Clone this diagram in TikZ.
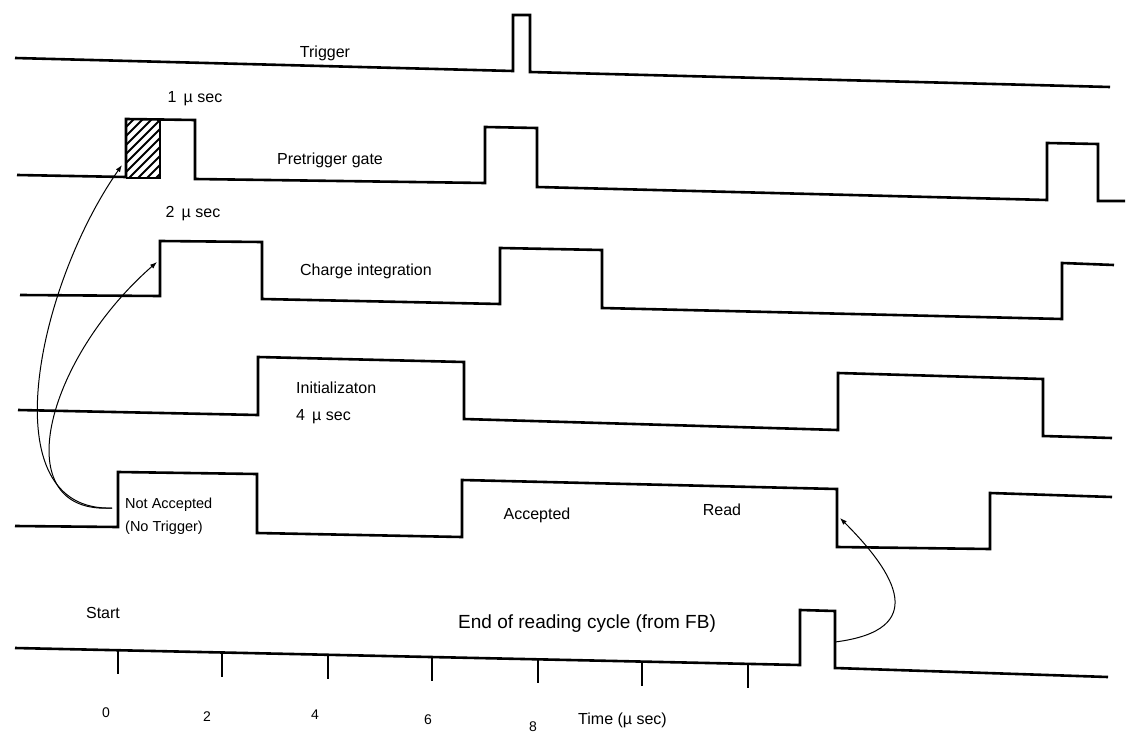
\documentclass[tikz,border=0pt]{standalone}
\usepackage{fontspec}
\setmainfont{Liberation Sans}
\usetikzlibrary{arrows.meta}
\begin{document}
\begin{tikzpicture}[x=1pt,y=-1pt,
  wave/.style={line width=2.6pt, line join=miter},
  conn/.style={line width=1pt, -{Latex[length=7pt,width=5pt]}},
  lbl/.style={inner sep=0pt, font=\fontsize{16}{18}\selectfont},
  tick/.style={line width=2pt},
  num/.style={inner sep=0pt, font=\fontsize{14}{16}\selectfont}
  ]
\useasboundingbox (0,0) rectangle (1142,738);

% Trigger
\draw[wave] (15,58) -- (513,71) -- (513,15) -- (530,15) -- (530,72) -- (1110,87);
\node[lbl] (ltrig) at (325,53) {Trigger};

% Pretrigger gate
\node[lbl] (l1us) at (195,99) {1 \,µ sec};
\begin{scope}
\clip (126,119) rectangle (160,178);
\foreach \c in {60,69,...,170} \draw[line width=1.8pt] (\c,184) -- (\c+70,114);
\end{scope}
\draw[line width=2.2pt] (126,178) -- (160,178) -- (160,120);
\draw[wave] (17,175) -- (126,177) -- (126,119) -- (195,120) -- (195,179) -- (485,183) -- (485,127) -- (537,128) -- (537,187) -- (1047,200) -- (1047,143) -- (1098,144) -- (1098,201) -- (1125,201);
\node[lbl] (lpre) at (330,160) {Pretrigger gate};

% Charge integration
\node[lbl] (l2us) at (193,214) {2 \,µ sec};
\draw[wave] (20,295) -- (160,296) -- (160,241) -- (262,242) -- (262,299) -- (500,304) -- (500,248) -- (602,250) -- (602,308) -- (1062,319) -- (1062,263) -- (1114,265);
\node[lbl] (lchg) at (366,271) {Charge integration};

% Initialization
\draw[wave] (18,410) -- (258,415) -- (258,357) -- (464,362) -- (464,419) -- (838,430) -- (838,373) -- (1043,379) -- (1043,436) -- (1112,438);
\node[lbl, anchor=west] (linit) at (296,388) {Initializaton};
\node[lbl, anchor=west] (l4us) at (296,417) {4 \,µ sec};

% Accepted / read
\draw[wave] (15,526) -- (118,527) -- (118,472) -- (257,474) -- (257,533) -- (462,537) -- (462,480) -- (837,489) -- (837,547) -- (990,549) -- (990,493) -- (1112,497);
\node[lbl, align=left, anchor=west, font=\fontsize{14.5}{23}\selectfont] (lnot) at (125,516) {Not Accepted\\(No Trigger)};
\node[lbl] (lacc) at (537,515) {Accepted};
\node[lbl] (lread) at (722,510) {Read};

% End of reading cycle / time axis
\draw[wave] (15,648) -- (800,665) -- (800,610) -- (835,611) -- (835,668) -- (1108,677);
\foreach \x/\y in {118/650.2,222/652.5,328/654.8,432/657,538/659.3,642/661.6,748/663.9}
  \draw[tick] (\x,\y) -- (\x,\y+24);
\node[lbl] (lstart) at (103,613) {Start};
\node[lbl, anchor=west, font=\fontsize{19}{21}\selectfont] (lend) at (458,624) {End of reading cycle (from FB)};
\node[num] (n0) at (106,713) {0};
\node[num] (n2) at (207,717) {2};
\node[num] (n4) at (315,715) {4};
\node[num] (n6) at (428,720) {6};
\node[num] (n8) at (533,727) {8};
\node[lbl, anchor=west] (ltime) at (578,720) {Time (µ sec)};

% connectors
\coordinate (s1) at (112,508);
\coordinate (e1) at (122,165);
\coordinate (e2) at (157,262);
\coordinate (s3) at (835,642);
\coordinate (e3) at (840,518);
\draw[conn] (s1) .. controls (-10,512) and (36,288) .. (e1);
\draw[conn] (s1) .. controls (5,515) and (45,360) .. (e2);
\draw[conn] (s3) .. controls (930,630) and (896,574) .. (e3);
\end{tikzpicture}
\end{document}
